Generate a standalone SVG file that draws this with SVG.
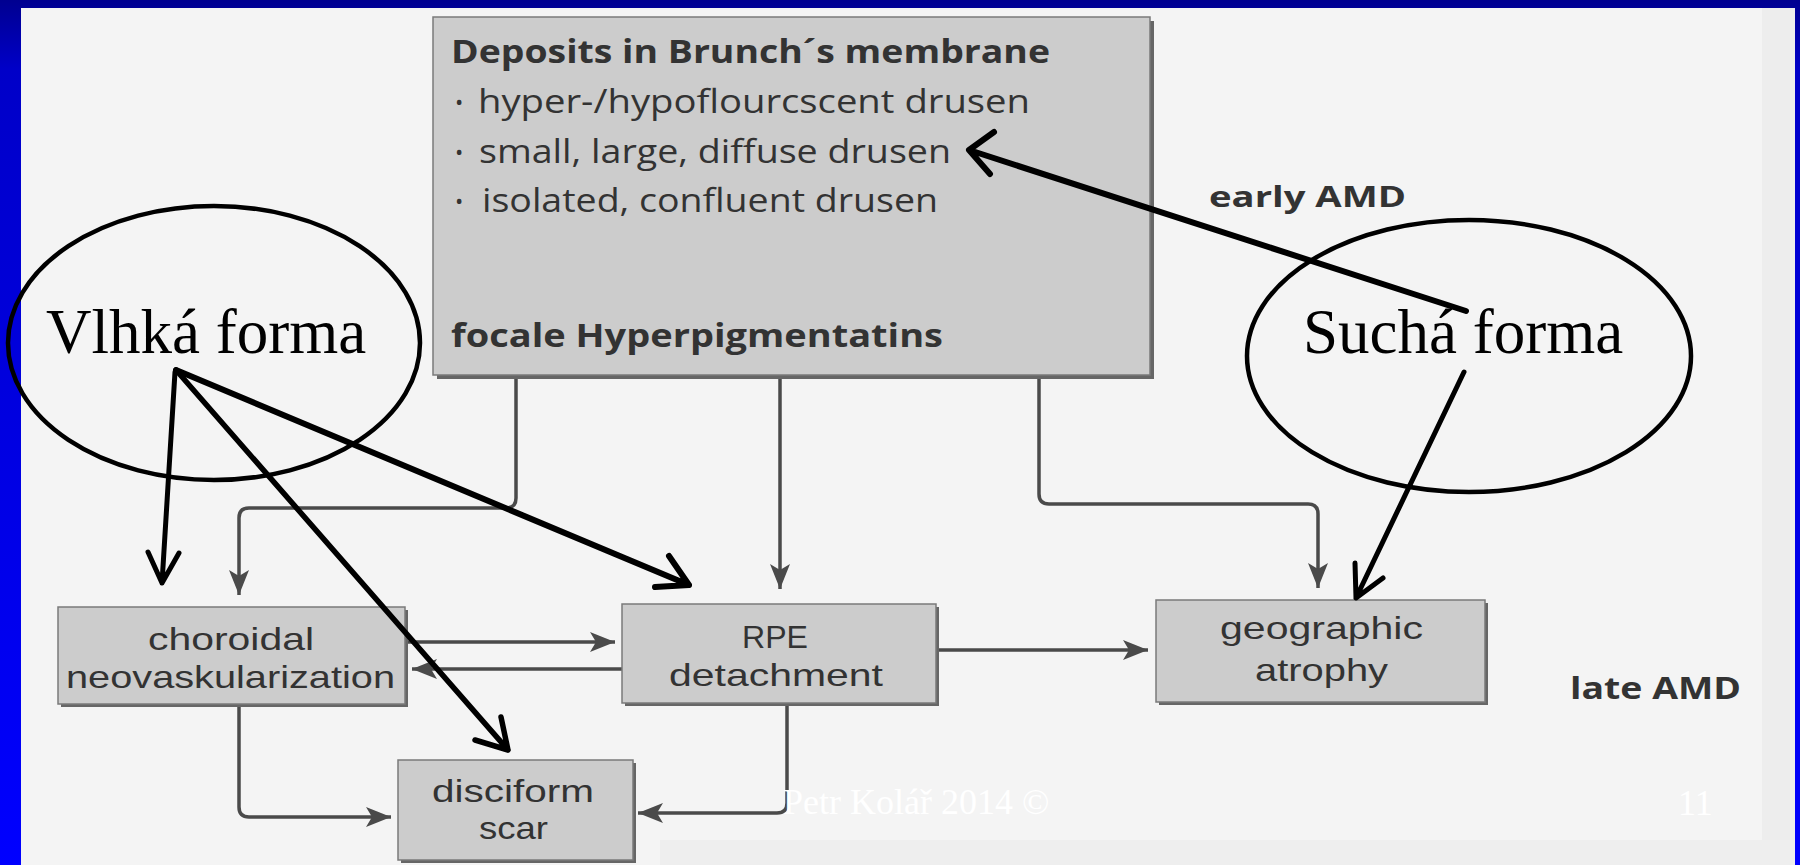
<svg xmlns="http://www.w3.org/2000/svg" width="1800" height="865" viewBox="0 0 1800 865">
  <defs>
    <linearGradient id="bg" x1="0" y1="0" x2="0" y2="1">
      <stop offset="0" stop-color="#000090"/>
      <stop offset="0.08" stop-color="#0000c8"/>
      <stop offset="1" stop-color="#0000ff"/>
    </linearGradient>
    <marker id="ah" markerUnits="userSpaceOnUse" markerWidth="26" markerHeight="20" refX="25" refY="10" orient="auto">
      <path d="M0,0 L25,10 L0,20 L6,10 z" fill="#4a4a4a"/>
    </marker>
    <style>
      .box { fill: #cccccc; stroke: #7a7a7a; stroke-width: 1.5; }
      .shadow { fill: #666; }
      .t { font-family: "Open Sans", "Noto Sans", "Liberation Sans", sans-serif; fill: #333; }
      .n { font-family: "Liberation Sans", Arial, sans-serif; fill: #333; font-size: 32px; }
      .b { font-weight: bold; }
      .conn { fill: none; stroke: #4a4a4a; stroke-width: 3.5; }
      .big { fill: none; stroke: #000; stroke-linecap: round; stroke-linejoin: round; }
      .ell { fill: none; stroke: #000; stroke-width: 4.5; }
      .serif { font-family: "Liberation Serif", "Times New Roman", serif; }
    </style>
  </defs>

  <!-- slide background and scanned page -->
  <rect x="0" y="0" width="1800" height="865" fill="url(#bg)"/>
  <rect x="21" y="8" width="1774" height="857" fill="#f4f4f4"/>
  <rect x="1762" y="8" width="33" height="857" fill="#ededed"/>
  <rect x="660" y="840" width="1135" height="25" fill="#eeeeee"/>

  <!-- connectors -->
  <g id="connectors">
    <path class="conn" d="M516,377 V498 Q516,508 506,508 H249 Q239,508 239,518 V595" marker-end="url(#ah)"/>
    <path class="conn" d="M780,377 V589" marker-end="url(#ah)"/>
    <path class="conn" d="M1039,377 V494 Q1039,504 1049,504 H1308 Q1318,504 1318,514 V588" marker-end="url(#ah)"/>
    <path class="conn" d="M407,642 H615" marker-end="url(#ah)"/>
    <path class="conn" d="M622,669 H412" marker-end="url(#ah)"/>
    <path class="conn" d="M938,650 H1148" marker-end="url(#ah)"/>
    <path class="conn" d="M239,705 V807 Q239,817 249,817 H391" marker-end="url(#ah)"/>
    <path class="conn" d="M787,705 V803 Q787,813 777,813 H638" marker-end="url(#ah)"/>
  </g>

  <!-- top node -->
  <g id="deposits">
    <rect class="shadow" x="437" y="21" width="717" height="358"/>
    <rect class="box" x="433" y="17" width="717" height="358"/>
    <text class="t b" x="451" y="63" font-size="32" textLength="599" lengthAdjust="spacingAndGlyphs">Deposits in Brunch´s membrane</text>
    <text class="t" x="455" y="110" font-size="22">•</text>
    <text class="t" x="478" y="113" font-size="33" textLength="552" lengthAdjust="spacingAndGlyphs">hyper-/hypoflourcscent drusen</text>
    <text class="t" x="455" y="160" font-size="22">•</text>
    <text class="t" x="479" y="163" font-size="33" textLength="472" lengthAdjust="spacingAndGlyphs">small, large, diffuse drusen</text>
    <text class="t" x="455" y="209" font-size="22">•</text>
    <text class="t" x="482" y="212" font-size="33" textLength="456" lengthAdjust="spacingAndGlyphs">isolated, confluent drusen</text>
    <text class="t b" x="451" y="347" font-size="32" textLength="492" lengthAdjust="spacingAndGlyphs">focale Hyperpigmentatins</text>
  </g>

  <g id="choroidal">
    <rect class="shadow" x="61" y="610" width="347" height="97"/>
    <rect class="box" x="58" y="607" width="347" height="97"/>
    <text class="n" x="148" y="650" textLength="166" lengthAdjust="spacingAndGlyphs">choroidal</text>
    <text class="n" x="66" y="688" textLength="329" lengthAdjust="spacingAndGlyphs">neovaskularization</text>
  </g>

  <g id="rpe">
    <rect class="shadow" x="625" y="607" width="314" height="99"/>
    <rect class="box" x="622" y="604" width="314" height="99"/>
    <text class="n" x="742" y="648" textLength="66" lengthAdjust="spacingAndGlyphs">RPE</text>
    <text class="n" x="669" y="686" textLength="214" lengthAdjust="spacingAndGlyphs">detachment</text>
  </g>

  <g id="geographic">
    <rect class="shadow" x="1159" y="603" width="329" height="102"/>
    <rect class="box" x="1156" y="600" width="329" height="102"/>
    <text class="n" x="1220" y="639" textLength="203" lengthAdjust="spacingAndGlyphs">geographic</text>
    <text class="n" x="1255" y="681" textLength="133" lengthAdjust="spacingAndGlyphs">atrophy</text>
  </g>

  <g id="disciform">
    <rect class="shadow" x="401" y="763" width="235" height="100"/>
    <rect class="box" x="398" y="760" width="235" height="100"/>
    <text class="n" x="432" y="802" textLength="162" lengthAdjust="spacingAndGlyphs">disciform</text>
    <text class="n" x="479" y="839" textLength="69" lengthAdjust="spacingAndGlyphs">scar</text>
  </g>

  <g id="labels">
    <text class="t b" x="1209" y="207" font-size="29" textLength="197" lengthAdjust="spacingAndGlyphs">early AMD</text>
    <text class="t b" x="1570" y="699" font-size="30" textLength="171" lengthAdjust="spacingAndGlyphs">late AMD</text>
  </g>

  <g id="vlhka">
    <ellipse class="ell" cx="214" cy="343" rx="206" ry="137"/>
    <text class="serif" x="46" y="353" font-size="63" fill="#000">Vlhká forma</text>
  </g>

  <g id="sucha">
    <ellipse class="ell" cx="1469" cy="356" rx="222" ry="136"/>
    <text class="serif" x="1303" y="353" font-size="63" fill="#000">Suchá forma</text>
  </g>

  <g id="hand-arrows">
    <path class="big" stroke-width="5" d="M175,372 L162,583 M148,552 L162,583 L179,553"/>
    <path class="big" stroke-width="6" d="M176,370 L689,585 M655,587 L689,585 L669,556"/>
    <path class="big" stroke-width="5.5" d="M176,370 L508,750 M475,740 L508,750 L501,717"/>
    <path class="big" stroke-width="6" d="M1466,311 L969,150 M994,132 L969,150 L990,174"/>
    <path class="big" stroke-width="5" d="M1464,372 L1356,598 M1355,563 L1356,598 L1383,578"/>
  </g>

  <g id="footer">
    <text class="serif" x="783" y="814" font-size="36" fill="#ffffff">Petr Kolář 2014 ©</text>
    <text class="serif" x="1678" y="815" font-size="36" fill="#ffffff">11</text>
  </g>
</svg>
